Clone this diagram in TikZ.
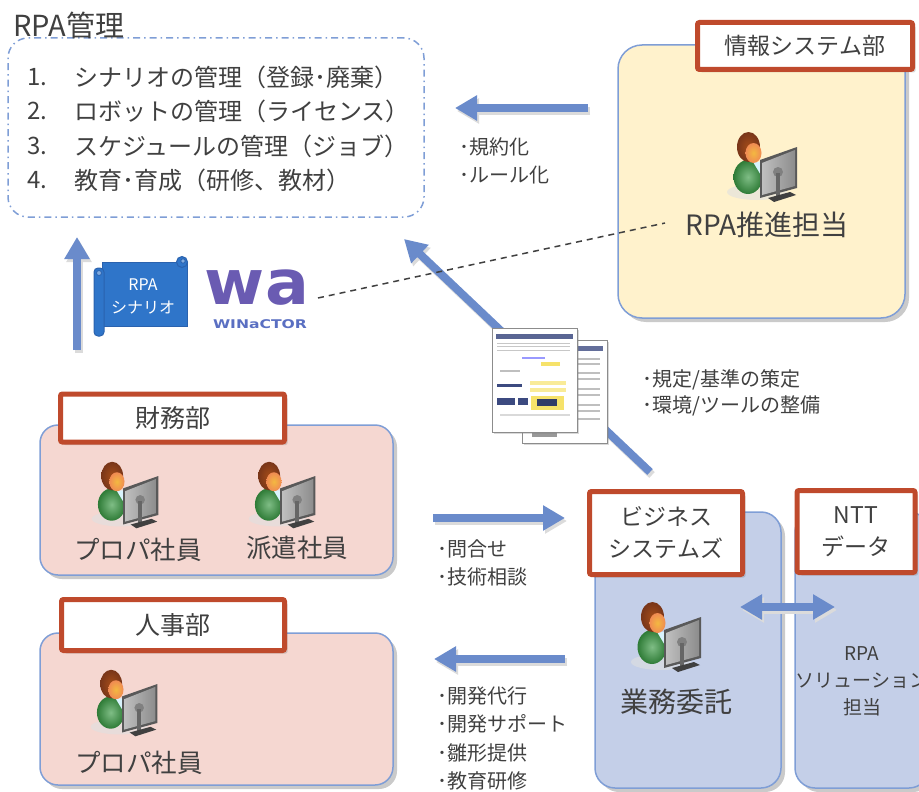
\documentclass[tikz,border=0pt]{standalone}
\usepackage{fontspec}
\setmainfont{Noto Sans CJK JP}
\newfontfamily\logofont{DejaVu Sans}
\usetikzlibrary{arrows.meta,shadows}

\definecolor{txt}{HTML}{404040}
\definecolor{arrowblue}{HTML}{6A8BCB}
\definecolor{edgeblue}{HTML}{7F9ED6}
\definecolor{yellowfill}{HTML}{FFF2CC}
\definecolor{pinkfill}{HTML}{F5D7D1}
\definecolor{bluefill}{HTML}{C4CFE8}
\definecolor{labelred}{HTML}{BF4A2C}
\definecolor{scrollblue}{HTML}{2F75C9}
\definecolor{scrolledge}{HTML}{2A62AE}
\definecolor{logopurple}{HTML}{6A5BB2}
\definecolor{logoblue}{HTML}{5A6FC2}
\definecolor{bodygreen}{HTML}{3A9A44}
\definecolor{hairbrown}{HTML}{8E3F1E}
\definecolor{faceorange}{HTML}{EE9A5C}
\definecolor{docnavy}{HTML}{3C4A80}
\definecolor{docyellow}{HTML}{F6E26A}

\tikzset{
  group/.style={draw=edgeblue, line width=1.5pt, inner sep=0pt,
    drop shadow={shadow xshift=4pt, shadow yshift=-4pt, opacity=.35, fill=black!60}},
  tag/.style={draw=labelred, line width=5pt, fill=white, rounded corners=2pt,
    inner sep=0pt, align=center, font=\fontsize{23}{32}\selectfont,
    drop shadow={shadow xshift=3pt, shadow yshift=-3pt, opacity=.25, fill=black!60}},
  bigarrow/.style={arrowblue, line width=8pt, -{Triangle[length=22pt,width=24pt]}},
  bigarrowshade/.style={black!14, line width=8pt, -{Triangle[length=22pt,width=24pt]},
    transform canvas={shift={(2pt,-3pt)}}},
  bullet/.style={anchor=west, inner sep=0pt, font=\fontsize{20}{20}\selectfont},
  listtext/.style={anchor=west, inner sep=0pt, font=\fontsize{24}{24}\selectfont},
  person/.style={inner sep=0pt, font=\fontsize{25.5}{25.5}\selectfont},
  worker/.pic={
    % ground shadow
    \fill[black!12, opacity=.6] (-5,24) ellipse [x radius=30pt, y radius=8pt];
    % body and collar
    \shade[inner color=bodygreen!65!white, outer color=bodygreen!80!black]
      (-14,9) ellipse [x radius=14.5pt, y radius=17pt];
    \fill[white!85!cyan] (-9,-6) -- (0,-6) -- (0,9) -- cycle;
    % head: hair behind, face in front
    \shade[inner color=hairbrown!80!orange, outer color=hairbrown!85!black]
      (-13.5,-21) ellipse [x radius=11.5pt, y radius=15pt];
    \shade[inner color=faceorange!70!yellow, outer color=faceorange!90!red]
      (-8.5,-15) ellipse [x radius=8pt, y radius=10pt];
    % monitor seen from the side
    \fill[black!65] (-2,-8) -- (35,-21) -- (35,20) -- (-2,30) -- cycle;
    \shade[left color=black!25, right color=black!45] (0,-5) -- (33,-18) -- (33,18) -- (0,27) -- cycle;
    \fill[black!50] (16,4) circle [radius=5pt];
    \fill[black!60] (14,5) rectangle (18,28);
    \fill[black!75] (6,30) -- (28,24) -- (34,27) -- (12,34) -- cycle;
  }
}

\begin{document}
\begin{tikzpicture}[x=1pt, y=-1pt, every node/.style={text=txt}]
\useasboundingbox (0,0) rectangle (919,792);

% ---------- RPA management ----------
\node[draw=edgeblue, line width=1.5pt, dash pattern=on 7pt off 4pt on 1.5pt off 4pt,
  rounded corners=20pt, minimum width=416pt, minimum height=179pt, inner sep=0pt]
  (mgmt) at (216,127.5) {};
\node[anchor=west, inner sep=0pt, font=\fontsize{29}{29}\selectfont] (mgmtTitle) at (13,25) {RPA管理};
\node[listtext] (num1) at (27,77) {1.};
\node[listtext] (item1) at (74,77) {シナリオの管理（登録･廃棄）};
\node[listtext] (num2) at (27,111) {2.};
\node[listtext] (item2) at (74,111) {ロボットの管理（ライセンス）};
\node[listtext] (num3) at (27,146) {3.};
\node[listtext] (item3) at (74,146) {スケジュールの管理（ジョブ）};
\node[listtext] (num4) at (27,180) {4.};
\node[listtext] (item4) at (74,180) {教育･育成（研修、教材）};

% ---------- information systems ----------
\node[group, fill=yellowfill, rounded corners=24pt, minimum width=287pt, minimum height=273pt]
  (infosys) at (761.5,181.5) {};
\node[tag, minimum width=215pt, minimum height=47pt]
  (infosysTag) at (805,46) {情報システム部};
\pic (leadIcon) at (762,168) {worker};
\node[inner sep=0pt, font=\fontsize{28}{28}\selectfont] (rpalead) at (767,225) {RPA推進担当};

% ---------- finance ----------
\node[group, fill=pinkfill, rounded corners=18pt, minimum width=353pt, minimum height=150pt]
  (finance) at (216.5,500) {};
\node[tag, minimum width=224pt, minimum height=48pt, font=\fontsize{25}{25}\selectfont]
  (financeTag) at (172.5,418) {財務部};
\pic[scale=.95] (finIconA) at (125,496) {worker};
\pic[scale=.95] (finIconB) at (282,496) {worker};
\node[person] (finStaff) at (138,550) {プロパ社員};
\node[person] (finTemp) at (297,548) {派遣社員};

% ---------- human resources ----------
\node[group, fill=pinkfill, rounded corners=18pt, minimum width=353pt, minimum height=152pt]
  (hr) at (216.5,709) {};
\node[tag, minimum width=223pt, minimum height=51pt, font=\fontsize{25}{25}\selectfont]
  (hrTag) at (173,625) {人事部};
\pic[scale=.95] (hrIcon) at (124,704) {worker};
\node[person] (hrStaff) at (139,763) {プロパ社員};

% ---------- business systems / NTT DATA ----------
\node[group, fill=bluefill, rounded corners=20pt, minimum width=186pt, minimum height=276pt]
  (bizsys) at (688,650) {};
\node[group, fill=bluefill, rounded corners=20pt, minimum width=134pt, minimum height=276pt]
  (ntt) at (862,650) {};
\node[tag, minimum width=153pt, minimum height=83pt] (bizsysTag) at (666,533) {ビジネス\\システムズ};
\node[tag, minimum width=118pt, minimum height=82pt] (nttTag) at (856,531.5) {NTT\\データ};
\pic (bizIcon) at (666,638) {worker};
\node[inner sep=0pt, font=\fontsize{28}{28}\selectfont] (outsource) at (676,702) {業務委託};
\node[inner sep=0pt, align=center, font=\fontsize{19}{27}\selectfont] (nttRole) at (862,681)
  {RPA\\ソリューション\\担当};

% ---------- arrows ----------
\coordinate (upS) at (77,350);      \coordinate (upE) at (77,237);
\coordinate (rulesS) at (588,108);  \coordinate (rulesE) at (455,108);
\coordinate (diagS) at (650,472);   \coordinate (diagE) at (404,239);
\coordinate (askS) at (433,518);    \coordinate (askE) at (565,518);
\coordinate (devS) at (565,659);    \coordinate (devE) at (434,659);
\coordinate (pairA) at (740,607);   \coordinate (pairB) at (835,607);

\foreach \s/\e in {upS/upE, rulesS/rulesE, diagS/diagE, askS/askE, devS/devE}{
  \draw[bigarrowshade] (\s) -- (\e);
  \draw[bigarrow] (\s) -- (\e);
}
\draw[black!14, line width=8pt, {Triangle[length=22pt,width=24pt]}-{Triangle[length=22pt,width=24pt]},
  transform canvas={shift={(2pt,-3pt)}}] (pairA) -- (pairB);
\draw[arrowblue, line width=8pt, {Triangle[length=22pt,width=24pt]}-{Triangle[length=22pt,width=24pt]}]
  (pairA) -- (pairB);

% ---------- arrow captions ----------
\node[bullet] (capRule1) at (459,147) {･規約化};
\node[bullet] (capRule2) at (459,175) {･ルール化};
\node[bullet] (capStd1) at (642,380) {･規定/基準の策定};
\node[bullet] (capStd2) at (642,406) {･環境/ツールの整備};
\node[bullet] (capAsk1) at (437,549) {･問合せ};
\node[bullet] (capAsk2) at (437,577) {･技術相談};
\node[bullet] (capDev1) at (437,696) {･開発代行};
\node[bullet] (capDev2) at (437,724) {･開発サポート};
\node[bullet] (capDev3) at (437,753) {･雛形提供};
\node[bullet] (capDev4) at (437,781) {･教育研修};

% ---------- scenario scroll ----------
\filldraw[fill=scrollblue, draw=scrolledge, line width=1pt] (102,262) rectangle (187,326);
\filldraw[fill=scrollblue, draw=scrolledge, line width=1pt] (182,262) circle [radius=5.5pt];
\filldraw[fill=scrollblue!60!white, draw=scrolledge, line width=.8pt] (183,261) circle [radius=2.2pt];
\filldraw[fill=scrollblue, draw=scrolledge, line width=1pt, rounded corners=4pt] (94,268) rectangle (104,336);
\filldraw[fill=scrollblue!60!white, draw=scrolledge, line width=.8pt] (99,273) circle [radius=2.5pt];
\node[text=white, align=center, inner sep=0pt, font=\fontsize{16}{23}\selectfont] (scenario) at (143,296) {RPA\\シナリオ};

% ---------- WinActor logo ----------
\node[inner sep=0pt, text=logopurple, font=\logofont\bfseries\fontsize{62}{62}\selectfont] (wa) at (257,288)
  {\scalebox{1.05}[1]{wa}};
\node[inner sep=0pt, text=logoblue, font=\logofont\bfseries\fontsize{12}{12}\selectfont] (waBrand) at (260,324)
  {\scalebox{1.3}[1]{WINaCTOR}};

% ---------- dashed link ----------
\coordinate (dashA) at (318,298);
\coordinate (dashB) at (665,223);
\draw[txt, line width=1.5pt, dash pattern=on 6pt off 5pt] (dashA) -- (dashB);

% ---------- documents ----------
\begin{scope}
  \filldraw[fill=white, draw=black!45, line width=.8pt,
    drop shadow={shadow xshift=2pt, shadow yshift=-2pt, opacity=.3}] (522,340) rectangle (607,443);
  \fill[docnavy!80] (526,346) rectangle (603,351);
  \foreach \yy in {358,363,372,378,388,394,404,410,418} {
    \fill[black!25] (528,\yy) rectangle (600,\yy+1.5);
  }
  \fill[black!40] (532,432) rectangle (557,437);
  \filldraw[fill=white, draw=black!45, line width=.8pt,
    drop shadow={shadow xshift=2pt, shadow yshift=-2pt, opacity=.3}] (492,328) rectangle (577,432);
  \fill[docnavy!85] (496,334) rectangle (573,339);
  \foreach \yy in {343,346,350} {
    \fill[black!22] (497,\yy) rectangle (570,\yy+1.2);
  }
  \fill[blue!40] (522,357) rectangle (545,359);
  \fill[docyellow] (541,362) rectangle (560,366);
  \fill[black!25] (500,370) rectangle (520,372);
  \fill[docyellow!70] (530,381) rectangle (566,385);
  \fill[docyellow!70] (530,388) rectangle (566,392);
  \fill[docnavy] (497,384) rectangle (522,387);
  \fill[docnavy] (497,398) rectangle (515,405);
  \fill[docnavy] (518,398) rectangle (528,405);
  \fill[docyellow] (531,396) rectangle (564,410);
  \fill[docnavy!80!black] (537,399) rectangle (557,406);
  \fill[black!15] (500,414) rectangle (570,415.5);
\end{scope}

\end{tikzpicture}
\end{document}
